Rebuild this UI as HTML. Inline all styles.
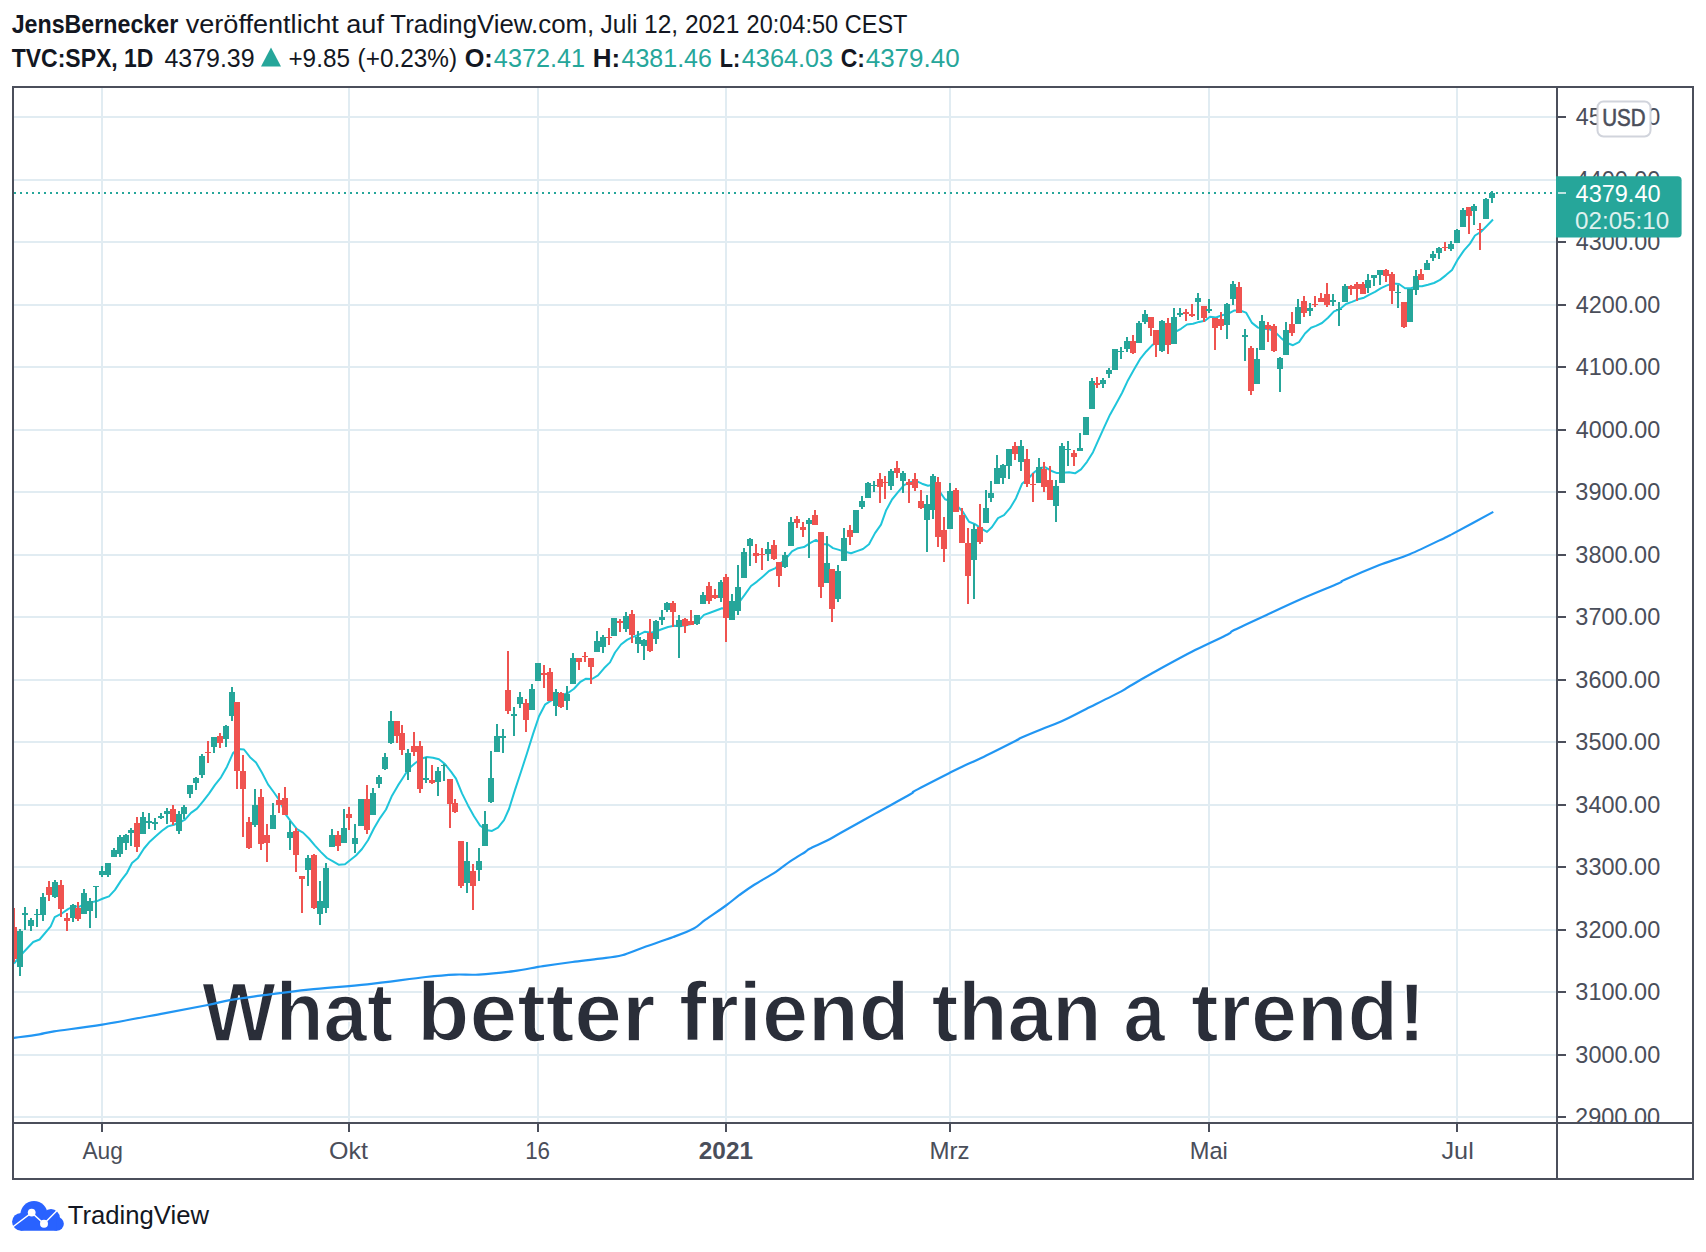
<!DOCTYPE html>
<html><head><meta charset="utf-8"><style>
html,body{margin:0;padding:0;background:#fff;}
body{width:1706px;height:1252px;position:relative;overflow:hidden;font-family:'Liberation Sans', sans-serif;}
</style></head><body>
<svg width="1706" height="1252" viewBox="0 0 1706 1252" style="position:absolute;left:0;top:0;font-family:'Liberation Sans', sans-serif">
<g stroke="#e1ecf2" stroke-width="2" shape-rendering="crispEdges">
<line x1="102" y1="88" x2="102" y2="1122"/>
<line x1="349" y1="88" x2="349" y2="1122"/>
<line x1="538" y1="88" x2="538" y2="1122"/>
<line x1="726" y1="88" x2="726" y2="1122"/>
<line x1="950" y1="88" x2="950" y2="1122"/>
<line x1="1209" y1="88" x2="1209" y2="1122"/>
<line x1="1457" y1="88" x2="1457" y2="1122"/>
<line x1="14" y1="117" x2="1556" y2="117"/>
<line x1="14" y1="180" x2="1556" y2="180"/>
<line x1="14" y1="242" x2="1556" y2="242"/>
<line x1="14" y1="305" x2="1556" y2="305"/>
<line x1="14" y1="367" x2="1556" y2="367"/>
<line x1="14" y1="430" x2="1556" y2="430"/>
<line x1="14" y1="492" x2="1556" y2="492"/>
<line x1="14" y1="555" x2="1556" y2="555"/>
<line x1="14" y1="617" x2="1556" y2="617"/>
<line x1="14" y1="680" x2="1556" y2="680"/>
<line x1="14" y1="742" x2="1556" y2="742"/>
<line x1="14" y1="805" x2="1556" y2="805"/>
<line x1="14" y1="867" x2="1556" y2="867"/>
<line x1="14" y1="930" x2="1556" y2="930"/>
<line x1="14" y1="992" x2="1556" y2="992"/>
<line x1="14" y1="1055" x2="1556" y2="1055"/>
<line x1="14" y1="1117" x2="1556" y2="1117"/>
</g>
<text x="202.01" y="1041" font-size="84" font-weight="bold" fill="#2a2e39" textLength="191.01" lengthAdjust="spacingAndGlyphs" stroke="#fff" stroke-width="1.6">What</text>
<text x="416.98" y="1041" font-size="84" font-weight="bold" fill="#2a2e39" textLength="238.53" lengthAdjust="spacingAndGlyphs" stroke="#fff" stroke-width="1.6">better</text>
<text x="678.92" y="1041" font-size="84" font-weight="bold" fill="#2a2e39" textLength="230.56" lengthAdjust="spacingAndGlyphs" stroke="#fff" stroke-width="1.6">friend</text>
<text x="931.44" y="1041" font-size="84" font-weight="bold" fill="#2a2e39" textLength="170.16" lengthAdjust="spacingAndGlyphs" stroke="#fff" stroke-width="1.6">than</text>
<text x="1123.58" y="1041" font-size="84" font-weight="bold" fill="#2a2e39" textLength="41.5" lengthAdjust="spacingAndGlyphs" stroke="#fff" stroke-width="1.6">a</text>
<text x="1191.11" y="1041" font-size="84" font-weight="bold" fill="#2a2e39" textLength="234.55" lengthAdjust="spacingAndGlyphs" stroke="#fff" stroke-width="1.6">trend!</text>
<defs><clipPath id="pane"><rect x="14" y="88" width="1542" height="1034"/></clipPath></defs>
<g clip-path="url(#pane)">
<path d="M13.7,1037.9 C18.0,1037.3 32.6,1035.4 39.3,1034.3 C46.0,1033.2 43.5,1032.9 54.0,1031.3 C64.5,1029.7 84.0,1027.7 102.3,1024.7 C120.6,1021.7 146.3,1016.6 163.9,1013.3 C181.5,1010.0 196.8,1007.2 207.8,1005.0 C218.8,1002.8 221.1,1001.6 229.8,1000.1 C238.5,998.6 246.9,997.5 260.0,995.7 C273.1,994.0 290.7,991.5 308.6,989.6 C326.5,987.7 347.6,986.4 367.2,984.3 C386.8,982.2 411.2,978.6 425.9,977.0 C440.6,975.4 446.4,975.0 455.2,974.6 C464.0,974.2 468.8,975.2 478.6,974.6 C488.4,974.0 503.0,972.5 513.8,971.1 C524.5,969.7 533.3,967.6 543.1,966.1 C552.9,964.6 562.9,963.2 572.4,962.0 C581.9,960.8 591.7,959.8 600.0,958.7 C608.3,957.6 614.7,957.2 622.0,955.3 C629.3,953.4 635.5,950.2 644.0,947.2 C652.5,944.2 665.0,940.1 673.3,937.0 C681.6,933.9 688.4,931.4 693.8,928.5 C699.2,925.6 700.1,923.5 705.5,919.7 C710.9,915.9 720.4,909.6 726.0,905.5 C731.6,901.4 734.6,898.6 739.2,895.2 C743.9,891.8 747.8,888.9 753.9,885.0 C760.0,881.1 769.8,875.8 775.9,871.8 C782.0,867.8 785.6,864.4 790.5,861.1 C795.4,857.8 802.0,854.0 805.2,852.0 C808.4,850.0 806.0,850.7 809.6,848.8 C813.2,846.9 822.0,843.2 827.1,840.6 C832.2,838.0 832.0,837.8 840.0,833.3 C848.0,828.8 863.5,820.1 875.2,813.6 C886.9,807.1 903.6,798.2 910.3,794.3 C917.0,790.4 909.1,793.9 915.6,790.4 C922.1,786.9 941.1,777.2 949.0,773.2 C956.9,769.2 957.8,768.7 963.1,766.2 C968.4,763.7 971.9,762.5 980.7,758.2 C989.5,754.0 1009.1,744.1 1015.8,740.7 C1022.5,737.3 1016.7,739.7 1021.1,737.7 C1025.5,735.7 1035.5,731.6 1042.2,728.9 C1049.0,726.2 1054.3,724.6 1061.6,721.3 C1068.9,718.0 1076.2,714.0 1086.2,709.0 C1096.2,704.0 1114.3,695.1 1121.3,691.4 C1128.3,687.7 1123.3,690.0 1128.4,687.0 C1133.5,684.0 1140.6,679.6 1151.7,673.5 C1162.8,667.4 1182.4,656.6 1195.1,650.1 C1207.8,643.6 1221.1,637.8 1227.6,634.5 C1234.1,631.2 1227.6,633.4 1234.1,630.1 C1240.6,626.8 1255.0,620.2 1266.6,614.9 C1278.2,609.5 1291.6,603.2 1303.5,598.0 C1315.4,592.8 1331.3,586.5 1338.2,583.5 C1345.1,580.5 1337.8,582.9 1344.7,579.8 C1351.6,576.7 1368.6,569.4 1379.4,565.1 C1390.2,560.8 1398.6,558.9 1409.8,554.2 C1421.0,549.5 1439.4,540.3 1446.6,536.9 C1453.8,533.5 1445.3,537.8 1453.1,533.6 C1460.9,529.4 1486.6,515.5 1493.3,511.9" fill="none" stroke="#2196f3" stroke-width="2.2"/>
<polyline points="14.0,963.5 22.8,953.0 33.2,942.0 39.6,939.5 50.7,926.3 54.7,917.2 62.0,913.3 68.0,909.1 74.0,906.2 79.0,906.8 85.0,903.8 91.0,902.4 97.0,901.1 103.0,898.5 109.0,896.4 115.0,889.9 121.0,880.6 127.0,872.8 132.0,863.0 138.0,857.9 144.0,848.5 150.0,841.4 156.0,835.9 162.0,830.7 168.0,826.4 174.0,824.7 180.0,822.3 185.0,819.7 191.0,812.9 197.0,808.6 203.0,801.4 209.0,793.6 215.0,784.9 221.0,777.3 227.0,766.7 233.0,753.1 238.0,749.1 244.0,749.5 250.0,757.2 256.0,762.6 262.0,772.7 268.0,784.4 274.0,792.5 280.0,801.2 286.0,814.8 291.0,821.7 297.0,829.1 303.0,832.6 309.0,838.5 315.0,845.6 321.0,852.1 327.0,858.0 333.0,861.4 339.0,864.8 345.0,864.3 350.0,860.2 356.0,855.5 362.0,849.0 368.0,840.3 374.0,828.3 380.0,818.1 386.0,809.5 392.0,795.7 398.0,785.4 403.0,777.8 409.0,768.4 415.0,763.3 421.0,758.7 427.0,757.0 433.0,757.8 439.0,759.3 445.0,764.1 451.0,771.7 456.0,778.6 462.0,793.4 468.0,805.4 474.0,816.3 480.0,825.5 486.0,830.0 492.0,830.9 498.0,827.7 504.0,820.2 509.0,809.0 515.0,789.9 521.0,771.8 527.0,753.2 533.0,734.1 539.0,716.3 545.0,704.7 551.0,700.7 557.0,695.8 562.0,695.3 568.0,693.0 574.0,688.7 580.0,682.2 586.0,678.7 592.0,679.0 598.0,675.3 604.0,668.3 610.0,662.4 615.0,652.5 621.0,644.5 627.0,639.9 633.0,636.9 639.0,634.7 645.0,631.7 651.0,632.8 657.0,631.0 663.0,628.7 668.0,627.0 674.0,625.8 680.0,626.3 686.0,625.3 692.0,623.9 698.0,621.1 704.0,614.9 710.0,612.7 716.0,610.5 722.0,608.2 727.0,608.9 733.0,606.8 739.0,602.5 745.0,594.4 751.0,586.0 757.0,581.6 763.0,576.4 769.0,571.0 775.0,568.4 780.0,563.8 786.0,558.7 792.0,551.4 798.0,548.2 804.0,547.1 810.0,543.2 816.0,539.9 822.0,544.0 828.0,544.5 833.0,548.1 839.0,549.9 845.0,551.7 851.0,553.3 857.0,551.1 863.0,549.0 869.0,544.3 875.0,533.1 881.0,524.6 886.0,510.6 892.0,499.5 898.0,492.2 904.0,485.1 910.0,482.3 916.0,480.9 922.0,483.7 928.0,485.8 934.0,484.6 939.0,490.6 945.0,499.2 951.0,501.2 957.0,505.6 963.0,512.0 969.0,521.7 975.0,524.1 981.0,528.3 987.0,531.9 992.0,527.0 998.0,518.1 1004.0,515.2 1010.0,508.2 1016.0,498.2 1022.0,483.8 1028.0,478.8 1034.0,472.5 1040.0,467.9 1045.0,467.2 1051.0,470.7 1057.0,473.1 1063.0,472.8 1069.0,472.2 1075.0,473.3 1081.0,469.3 1087.0,461.8 1093.0,452.2 1098.0,440.9 1104.0,427.6 1110.0,414.7 1116.0,403.9 1122.0,393.0 1128.0,380.2 1134.0,369.6 1140.0,359.2 1146.0,351.7 1152.0,345.4 1157.0,341.5 1163.0,336.1 1169.0,335.7 1175.0,332.0 1181.0,328.8 1187.0,324.5 1193.0,323.7 1199.0,321.9 1205.0,320.7 1210.0,316.7 1216.0,317.5 1222.0,315.3 1228.0,313.9 1234.0,310.6 1240.0,310.5 1246.0,312.6 1252.0,322.9 1258.0,327.6 1263.0,328.9 1269.0,329.1 1275.0,331.9 1281.0,337.9 1287.0,343.0 1293.0,345.2 1299.0,342.1 1305.0,333.5 1311.0,327.7 1316.0,325.9 1322.0,323.0 1328.0,317.8 1334.0,311.4 1340.0,309.1 1346.0,304.0 1352.0,301.9 1358.0,299.3 1364.0,297.7 1369.0,294.9 1375.0,291.9 1381.0,288.1 1387.0,285.4 1393.0,283.4 1399.0,284.0 1405.0,288.2 1411.0,288.2 1417.0,286.3 1422.0,286.2 1428.0,284.8 1434.0,283.0 1440.0,279.9 1446.0,275.1 1452.0,269.9 1458.0,259.1 1464.0,250.4 1470.0,243.6 1475.0,235.5 1481.0,231.8 1487.0,225.7 1493.0,219.5" fill="none" stroke="#1fc5da" stroke-width="2" stroke-linejoin="round"/>
<line x1="14" y1="193" x2="1556" y2="193" stroke="#26a69a" stroke-width="2" stroke-dasharray="2 4"/>
<g shape-rendering="crispEdges">
<rect x="13" y="907.9" width="2" height="53.7" fill="#ef5350"/>
<rect x="11" y="927.1" width="6" height="31.7" fill="#ef5350"/>
<rect x="19" y="929.0" width="2" height="46.5" fill="#26a69a"/>
<rect x="17" y="931.0" width="6" height="36.4" fill="#26a69a"/>
<rect x="24" y="906.5" width="2" height="23.0" fill="#26a69a"/>
<rect x="22" y="913.2" width="6" height="1.4" fill="#26a69a"/>
<rect x="30" y="917.5" width="2" height="13.9" fill="#26a69a"/>
<rect x="28" y="920.4" width="6" height="5.3" fill="#26a69a"/>
<rect x="36" y="909.4" width="2" height="17.2" fill="#26a69a"/>
<rect x="34" y="914.2" width="6" height="1.2" fill="#26a69a"/>
<rect x="42" y="893.4" width="2" height="27.2" fill="#26a69a"/>
<rect x="40" y="897.2" width="6" height="18.2" fill="#26a69a"/>
<rect x="48" y="881.1" width="2" height="19.6" fill="#ef5350"/>
<rect x="46" y="887.3" width="6" height="7.2" fill="#ef5350"/>
<rect x="54" y="880.3" width="2" height="17.6" fill="#26a69a"/>
<rect x="52" y="882.0" width="6" height="14.9" fill="#26a69a"/>
<rect x="60" y="880.3" width="2" height="36.3" fill="#ef5350"/>
<rect x="58" y="885.1" width="6" height="23.6" fill="#ef5350"/>
<rect x="66" y="913.2" width="2" height="17.6" fill="#ef5350"/>
<rect x="64" y="918.2" width="6" height="2.4" fill="#ef5350"/>
<rect x="72" y="904.3" width="2" height="17.5" fill="#26a69a"/>
<rect x="70" y="905.3" width="6" height="12.4" fill="#26a69a"/>
<rect x="77" y="902.2" width="2" height="18.4" fill="#ef5350"/>
<rect x="75" y="907.9" width="6" height="10.8" fill="#ef5350"/>
<rect x="83" y="889.2" width="2" height="24.5" fill="#26a69a"/>
<rect x="81" y="893.1" width="6" height="20.6" fill="#26a69a"/>
<rect x="89" y="898.4" width="2" height="29.2" fill="#26a69a"/>
<rect x="87" y="901.2" width="6" height="9.3" fill="#26a69a"/>
<rect x="95" y="885.7" width="2" height="31.8" fill="#26a69a"/>
<rect x="93" y="885.7" width="6" height="1.0" fill="#26a69a"/>
<rect x="101" y="866.2" width="2" height="11.2" fill="#26a69a"/>
<rect x="99" y="871.3" width="6" height="3.9" fill="#26a69a"/>
<rect x="107" y="863.1" width="2" height="13.6" fill="#26a69a"/>
<rect x="105" y="863.1" width="6" height="11.6" fill="#26a69a"/>
<rect x="113" y="848.1" width="2" height="8.6" fill="#26a69a"/>
<rect x="111" y="850.1" width="6" height="6.6" fill="#26a69a"/>
<rect x="119" y="835.1" width="2" height="21.6" fill="#26a69a"/>
<rect x="117" y="837.1" width="6" height="16.8" fill="#26a69a"/>
<rect x="125" y="834.1" width="2" height="15.4" fill="#26a69a"/>
<rect x="123" y="835.1" width="6" height="7.6" fill="#26a69a"/>
<rect x="130" y="828.2" width="2" height="17.6" fill="#26a69a"/>
<rect x="128" y="830.3" width="6" height="2.4" fill="#26a69a"/>
<rect x="136" y="817.2" width="2" height="34.5" fill="#ef5350"/>
<rect x="134" y="823.1" width="6" height="23.8" fill="#ef5350"/>
<rect x="142" y="812.2" width="2" height="21.6" fill="#26a69a"/>
<rect x="140" y="817.2" width="6" height="16.6" fill="#26a69a"/>
<rect x="148" y="813.2" width="2" height="15.5" fill="#26a69a"/>
<rect x="146" y="821.2" width="6" height="1.5" fill="#26a69a"/>
<rect x="154" y="818.0" width="2" height="11.5" fill="#26a69a"/>
<rect x="152" y="822.3" width="6" height="2.0" fill="#26a69a"/>
<rect x="160" y="813.2" width="2" height="5.6" fill="#26a69a"/>
<rect x="158" y="816.0" width="6" height="1.6" fill="#26a69a"/>
<rect x="166" y="808.2" width="2" height="15.3" fill="#26a69a"/>
<rect x="164" y="811.2" width="6" height="2.4" fill="#26a69a"/>
<rect x="172" y="805.0" width="2" height="19.7" fill="#ef5350"/>
<rect x="170" y="809.2" width="6" height="12.8" fill="#ef5350"/>
<rect x="178" y="811.2" width="2" height="22.6" fill="#26a69a"/>
<rect x="176" y="814.0" width="6" height="16.9" fill="#26a69a"/>
<rect x="183" y="805.0" width="2" height="14.2" fill="#26a69a"/>
<rect x="181" y="806.9" width="6" height="7.1" fill="#26a69a"/>
<rect x="189" y="785.3" width="2" height="12.4" fill="#26a69a"/>
<rect x="187" y="785.3" width="6" height="8.6" fill="#26a69a"/>
<rect x="195" y="777.3" width="2" height="12.5" fill="#26a69a"/>
<rect x="193" y="778.3" width="6" height="4.5" fill="#26a69a"/>
<rect x="201" y="754.3" width="2" height="23.5" fill="#26a69a"/>
<rect x="199" y="756.2" width="6" height="18.7" fill="#26a69a"/>
<rect x="207" y="741.1" width="2" height="21.8" fill="#ef5350"/>
<rect x="205" y="751.9" width="6" height="1.0" fill="#ef5350"/>
<rect x="213" y="737.3" width="2" height="15.6" fill="#26a69a"/>
<rect x="211" y="737.3" width="6" height="9.3" fill="#26a69a"/>
<rect x="219" y="733.2" width="2" height="14.7" fill="#ef5350"/>
<rect x="217" y="736.4" width="6" height="6.4" fill="#ef5350"/>
<rect x="225" y="725.1" width="2" height="21.5" fill="#26a69a"/>
<rect x="223" y="726.2" width="6" height="12.5" fill="#26a69a"/>
<rect x="231" y="687.2" width="2" height="33.5" fill="#26a69a"/>
<rect x="229" y="692.3" width="6" height="23.7" fill="#26a69a"/>
<rect x="236" y="702.2" width="2" height="86.6" fill="#ef5350"/>
<rect x="234" y="702.2" width="6" height="68.4" fill="#ef5350"/>
<rect x="242" y="755.3" width="2" height="81.2" fill="#ef5350"/>
<rect x="240" y="771.1" width="6" height="17.5" fill="#ef5350"/>
<rect x="248" y="817.3" width="2" height="32.0" fill="#ef5350"/>
<rect x="246" y="822.2" width="6" height="25.5" fill="#ef5350"/>
<rect x="254" y="789.2" width="2" height="37.7" fill="#26a69a"/>
<rect x="252" y="805.2" width="6" height="19.8" fill="#26a69a"/>
<rect x="260" y="789.2" width="2" height="60.3" fill="#ef5350"/>
<rect x="258" y="797.1" width="6" height="46.4" fill="#ef5350"/>
<rect x="266" y="824.3" width="2" height="37.5" fill="#ef5350"/>
<rect x="264" y="834.6" width="6" height="8.0" fill="#ef5350"/>
<rect x="272" y="803.2" width="2" height="25.4" fill="#26a69a"/>
<rect x="270" y="815.4" width="6" height="13.2" fill="#26a69a"/>
<rect x="278" y="793.3" width="2" height="19.5" fill="#ef5350"/>
<rect x="276" y="800.4" width="6" height="4.1" fill="#ef5350"/>
<rect x="284" y="787.3" width="2" height="27.7" fill="#ef5350"/>
<rect x="282" y="798.4" width="6" height="16.6" fill="#ef5350"/>
<rect x="289" y="820.5" width="2" height="29.4" fill="#26a69a"/>
<rect x="287" y="832.4" width="6" height="6.0" fill="#26a69a"/>
<rect x="295" y="828.2" width="2" height="44.1" fill="#ef5350"/>
<rect x="293" y="830.7" width="6" height="24.7" fill="#ef5350"/>
<rect x="301" y="876.1" width="2" height="36.5" fill="#ef5350"/>
<rect x="299" y="876.1" width="6" height="3.2" fill="#ef5350"/>
<rect x="307" y="855.4" width="2" height="30.3" fill="#26a69a"/>
<rect x="305" y="858.2" width="6" height="12.2" fill="#26a69a"/>
<rect x="313" y="853.8" width="2" height="55.6" fill="#ef5350"/>
<rect x="311" y="855.0" width="6" height="52.9" fill="#ef5350"/>
<rect x="319" y="881.3" width="2" height="43.4" fill="#26a69a"/>
<rect x="317" y="901.1" width="6" height="12.4" fill="#26a69a"/>
<rect x="325" y="863.4" width="2" height="49.2" fill="#26a69a"/>
<rect x="323" y="868.2" width="6" height="39.7" fill="#26a69a"/>
<rect x="331" y="829.1" width="2" height="18.3" fill="#26a69a"/>
<rect x="329" y="835.2" width="6" height="11.5" fill="#26a69a"/>
<rect x="337" y="831.1" width="2" height="19.8" fill="#ef5350"/>
<rect x="335" y="835.3" width="6" height="10.2" fill="#ef5350"/>
<rect x="343" y="809.3" width="2" height="33.3" fill="#26a69a"/>
<rect x="341" y="828.3" width="6" height="14.3" fill="#26a69a"/>
<rect x="348" y="807.2" width="2" height="22.6" fill="#ef5350"/>
<rect x="346" y="814.2" width="6" height="3.7" fill="#ef5350"/>
<rect x="354" y="824.0" width="2" height="28.8" fill="#26a69a"/>
<rect x="352" y="837.5" width="6" height="6.4" fill="#26a69a"/>
<rect x="360" y="799.1" width="2" height="26.9" fill="#26a69a"/>
<rect x="358" y="799.1" width="6" height="26.9" fill="#26a69a"/>
<rect x="366" y="785.0" width="2" height="49.0" fill="#ef5350"/>
<rect x="364" y="799.1" width="6" height="30.7" fill="#ef5350"/>
<rect x="372" y="788.2" width="2" height="26.3" fill="#26a69a"/>
<rect x="370" y="793.4" width="6" height="21.1" fill="#26a69a"/>
<rect x="378" y="775.4" width="2" height="12.6" fill="#26a69a"/>
<rect x="376" y="776.5" width="6" height="7.3" fill="#26a69a"/>
<rect x="384" y="753.1" width="2" height="16.6" fill="#26a69a"/>
<rect x="382" y="757.3" width="6" height="12.0" fill="#26a69a"/>
<rect x="390" y="711.3" width="2" height="32.4" fill="#26a69a"/>
<rect x="388" y="721.1" width="6" height="21.7" fill="#26a69a"/>
<rect x="396" y="721.1" width="2" height="21.7" fill="#ef5350"/>
<rect x="394" y="721.1" width="6" height="14.7" fill="#ef5350"/>
<rect x="401" y="725.3" width="2" height="29.4" fill="#ef5350"/>
<rect x="399" y="733.2" width="6" height="16.7" fill="#ef5350"/>
<rect x="407" y="749.2" width="2" height="30.7" fill="#26a69a"/>
<rect x="405" y="753.1" width="6" height="18.5" fill="#26a69a"/>
<rect x="413" y="732.2" width="2" height="23.4" fill="#ef5350"/>
<rect x="411" y="746.3" width="6" height="6.1" fill="#ef5350"/>
<rect x="419" y="741.2" width="2" height="51.3" fill="#ef5350"/>
<rect x="417" y="746.3" width="6" height="42.2" fill="#ef5350"/>
<rect x="425" y="757.3" width="2" height="25.8" fill="#26a69a"/>
<rect x="423" y="778.3" width="6" height="2.1" fill="#26a69a"/>
<rect x="431" y="764.6" width="2" height="19.7" fill="#ef5350"/>
<rect x="429" y="780.4" width="6" height="3.0" fill="#ef5350"/>
<rect x="437" y="767.2" width="2" height="28.4" fill="#26a69a"/>
<rect x="435" y="771.0" width="6" height="10.6" fill="#26a69a"/>
<rect x="443" y="763.7" width="2" height="17.1" fill="#26a69a"/>
<rect x="441" y="764.6" width="6" height="1.0" fill="#26a69a"/>
<rect x="449" y="779.3" width="2" height="48.6" fill="#ef5350"/>
<rect x="447" y="779.3" width="6" height="25.1" fill="#ef5350"/>
<rect x="454" y="799.0" width="2" height="13.7" fill="#ef5350"/>
<rect x="452" y="803.1" width="6" height="8.8" fill="#ef5350"/>
<rect x="460" y="841.1" width="2" height="46.7" fill="#ef5350"/>
<rect x="458" y="841.1" width="6" height="44.9" fill="#ef5350"/>
<rect x="466" y="842.3" width="2" height="50.4" fill="#26a69a"/>
<rect x="464" y="860.8" width="6" height="21.7" fill="#26a69a"/>
<rect x="472" y="864.3" width="2" height="45.5" fill="#ef5350"/>
<rect x="470" y="871.1" width="6" height="15.2" fill="#ef5350"/>
<rect x="478" y="848.1" width="2" height="32.9" fill="#26a69a"/>
<rect x="476" y="861.3" width="6" height="9.1" fill="#26a69a"/>
<rect x="484" y="811.2" width="2" height="34.4" fill="#26a69a"/>
<rect x="482" y="824.1" width="6" height="21.5" fill="#26a69a"/>
<rect x="490" y="751.2" width="2" height="51.3" fill="#26a69a"/>
<rect x="488" y="778.3" width="6" height="23.8" fill="#26a69a"/>
<rect x="496" y="724.4" width="2" height="27.3" fill="#26a69a"/>
<rect x="494" y="736.4" width="6" height="15.3" fill="#26a69a"/>
<rect x="502" y="729.4" width="2" height="23.3" fill="#26a69a"/>
<rect x="500" y="736.4" width="6" height="1.2" fill="#26a69a"/>
<rect x="507" y="651.3" width="2" height="62.3" fill="#ef5350"/>
<rect x="505" y="690.3" width="6" height="21.1" fill="#ef5350"/>
<rect x="513" y="707.3" width="2" height="28.4" fill="#26a69a"/>
<rect x="511" y="714.3" width="6" height="1.4" fill="#26a69a"/>
<rect x="519" y="692.3" width="2" height="15.3" fill="#26a69a"/>
<rect x="517" y="697.3" width="6" height="6.5" fill="#26a69a"/>
<rect x="525" y="699.3" width="2" height="32.3" fill="#ef5350"/>
<rect x="523" y="703.3" width="6" height="16.3" fill="#ef5350"/>
<rect x="531" y="684.3" width="2" height="25.2" fill="#26a69a"/>
<rect x="529" y="689.4" width="6" height="20.1" fill="#26a69a"/>
<rect x="537" y="662.5" width="2" height="18.0" fill="#26a69a"/>
<rect x="535" y="663.2" width="6" height="17.3" fill="#26a69a"/>
<rect x="543" y="665.4" width="2" height="22.1" fill="#ef5350"/>
<rect x="541" y="673.1" width="6" height="1.4" fill="#ef5350"/>
<rect x="549" y="668.3" width="2" height="32.3" fill="#ef5350"/>
<rect x="547" y="672.4" width="6" height="28.2" fill="#ef5350"/>
<rect x="555" y="689.4" width="2" height="26.3" fill="#26a69a"/>
<rect x="553" y="691.6" width="6" height="14.1" fill="#26a69a"/>
<rect x="560" y="692.3" width="2" height="15.3" fill="#ef5350"/>
<rect x="558" y="693.2" width="6" height="13.7" fill="#ef5350"/>
<rect x="566" y="686.2" width="2" height="23.6" fill="#26a69a"/>
<rect x="564" y="694.2" width="6" height="7.2" fill="#26a69a"/>
<rect x="572" y="653.2" width="2" height="30.4" fill="#26a69a"/>
<rect x="570" y="658.2" width="6" height="25.4" fill="#26a69a"/>
<rect x="578" y="658.2" width="2" height="11.5" fill="#ef5350"/>
<rect x="576" y="658.2" width="6" height="3.4" fill="#ef5350"/>
<rect x="584" y="652.3" width="2" height="9.6" fill="#ef5350"/>
<rect x="582" y="656.1" width="6" height="1.0" fill="#ef5350"/>
<rect x="590" y="658.2" width="2" height="25.4" fill="#ef5350"/>
<rect x="588" y="658.2" width="6" height="8.3" fill="#ef5350"/>
<rect x="596" y="631.1" width="2" height="20.6" fill="#26a69a"/>
<rect x="594" y="641.2" width="6" height="10.5" fill="#26a69a"/>
<rect x="602" y="635.1" width="2" height="17.6" fill="#26a69a"/>
<rect x="600" y="637.3" width="6" height="9.5" fill="#26a69a"/>
<rect x="608" y="628.2" width="2" height="16.6" fill="#ef5350"/>
<rect x="606" y="637.3" width="6" height="1.0" fill="#ef5350"/>
<rect x="613" y="618.2" width="2" height="17.5" fill="#26a69a"/>
<rect x="611" y="618.2" width="6" height="17.5" fill="#26a69a"/>
<rect x="619" y="619.1" width="2" height="12.6" fill="#ef5350"/>
<rect x="617" y="621.3" width="6" height="1.2" fill="#ef5350"/>
<rect x="625" y="612.1" width="2" height="19.5" fill="#26a69a"/>
<rect x="623" y="616.2" width="6" height="12.6" fill="#26a69a"/>
<rect x="631" y="610.3" width="2" height="32.5" fill="#ef5350"/>
<rect x="629" y="614.3" width="6" height="20.3" fill="#ef5350"/>
<rect x="637" y="631.1" width="2" height="21.6" fill="#26a69a"/>
<rect x="635" y="637.1" width="6" height="6.5" fill="#26a69a"/>
<rect x="643" y="639.2" width="2" height="20.4" fill="#26a69a"/>
<rect x="641" y="640.3" width="6" height="5.2" fill="#26a69a"/>
<rect x="649" y="619.1" width="2" height="32.6" fill="#ef5350"/>
<rect x="647" y="633.0" width="6" height="18.0" fill="#ef5350"/>
<rect x="655" y="620.2" width="2" height="23.6" fill="#26a69a"/>
<rect x="653" y="621.1" width="6" height="17.6" fill="#26a69a"/>
<rect x="661" y="610.3" width="2" height="14.4" fill="#26a69a"/>
<rect x="659" y="617.3" width="6" height="2.9" fill="#26a69a"/>
<rect x="666" y="602.4" width="2" height="9.3" fill="#26a69a"/>
<rect x="664" y="603.1" width="6" height="6.5" fill="#26a69a"/>
<rect x="672" y="601.1" width="2" height="25.7" fill="#ef5350"/>
<rect x="670" y="603.1" width="6" height="8.5" fill="#ef5350"/>
<rect x="678" y="615.2" width="2" height="42.5" fill="#26a69a"/>
<rect x="676" y="620.3" width="6" height="7.1" fill="#26a69a"/>
<rect x="684" y="618.4" width="2" height="14.4" fill="#ef5350"/>
<rect x="682" y="619.2" width="6" height="6.4" fill="#ef5350"/>
<rect x="690" y="610.3" width="2" height="14.6" fill="#ef5350"/>
<rect x="688" y="621.3" width="6" height="3.6" fill="#ef5350"/>
<rect x="696" y="615.1" width="2" height="9.5" fill="#26a69a"/>
<rect x="694" y="615.1" width="6" height="8.6" fill="#26a69a"/>
<rect x="702" y="592.3" width="2" height="11.3" fill="#26a69a"/>
<rect x="700" y="595.2" width="6" height="8.4" fill="#26a69a"/>
<rect x="708" y="582.2" width="2" height="21.6" fill="#ef5350"/>
<rect x="706" y="586.3" width="6" height="14.7" fill="#ef5350"/>
<rect x="714" y="589.2" width="2" height="9.6" fill="#ef5350"/>
<rect x="712" y="595.2" width="6" height="2.9" fill="#ef5350"/>
<rect x="720" y="580.3" width="2" height="21.3" fill="#26a69a"/>
<rect x="718" y="582.2" width="6" height="15.6" fill="#26a69a"/>
<rect x="725" y="574.1" width="2" height="67.8" fill="#ef5350"/>
<rect x="723" y="577.2" width="6" height="40.3" fill="#ef5350"/>
<rect x="731" y="594.3" width="2" height="25.6" fill="#26a69a"/>
<rect x="729" y="601.2" width="6" height="18.7" fill="#26a69a"/>
<rect x="737" y="565.2" width="2" height="49.4" fill="#26a69a"/>
<rect x="735" y="587.3" width="6" height="23.4" fill="#26a69a"/>
<rect x="743" y="548.2" width="2" height="29.5" fill="#26a69a"/>
<rect x="741" y="552.1" width="6" height="25.6" fill="#26a69a"/>
<rect x="749" y="538.1" width="2" height="27.8" fill="#26a69a"/>
<rect x="747" y="539.0" width="6" height="6.5" fill="#26a69a"/>
<rect x="755" y="544.1" width="2" height="18.7" fill="#ef5350"/>
<rect x="753" y="553.0" width="6" height="2.6" fill="#ef5350"/>
<rect x="761" y="548.2" width="2" height="21.5" fill="#ef5350"/>
<rect x="759" y="554.2" width="6" height="1.0" fill="#ef5350"/>
<rect x="767" y="542.2" width="2" height="18.5" fill="#26a69a"/>
<rect x="765" y="549.2" width="6" height="4.5" fill="#26a69a"/>
<rect x="773" y="540.2" width="2" height="19.5" fill="#ef5350"/>
<rect x="771" y="545.2" width="6" height="13.9" fill="#ef5350"/>
<rect x="778" y="562.1" width="2" height="24.6" fill="#ef5350"/>
<rect x="776" y="562.1" width="6" height="13.7" fill="#ef5350"/>
<rect x="784" y="552.1" width="2" height="15.6" fill="#26a69a"/>
<rect x="782" y="555.2" width="6" height="11.8" fill="#26a69a"/>
<rect x="790" y="517.1" width="2" height="28.4" fill="#26a69a"/>
<rect x="788" y="522.0" width="6" height="23.5" fill="#26a69a"/>
<rect x="796" y="516.1" width="2" height="11.7" fill="#ef5350"/>
<rect x="794" y="519.2" width="6" height="3.6" fill="#ef5350"/>
<rect x="802" y="522.0" width="2" height="14.9" fill="#ef5350"/>
<rect x="800" y="527.2" width="6" height="2.4" fill="#ef5350"/>
<rect x="808" y="518.2" width="2" height="39.4" fill="#26a69a"/>
<rect x="806" y="520.2" width="6" height="3.5" fill="#26a69a"/>
<rect x="814" y="510.2" width="2" height="15.2" fill="#ef5350"/>
<rect x="812" y="515.4" width="6" height="9.5" fill="#ef5350"/>
<rect x="820" y="532.2" width="2" height="65.6" fill="#ef5350"/>
<rect x="818" y="532.2" width="6" height="54.5" fill="#ef5350"/>
<rect x="826" y="536.1" width="2" height="46.5" fill="#26a69a"/>
<rect x="824" y="563.1" width="6" height="19.5" fill="#26a69a"/>
<rect x="831" y="569.1" width="2" height="52.6" fill="#ef5350"/>
<rect x="829" y="569.1" width="6" height="39.7" fill="#ef5350"/>
<rect x="837" y="565.2" width="2" height="36.6" fill="#26a69a"/>
<rect x="835" y="571.1" width="6" height="27.5" fill="#26a69a"/>
<rect x="843" y="528.2" width="2" height="32.5" fill="#26a69a"/>
<rect x="841" y="538.2" width="6" height="22.5" fill="#26a69a"/>
<rect x="849" y="525.1" width="2" height="19.8" fill="#ef5350"/>
<rect x="847" y="530.1" width="6" height="6.8" fill="#ef5350"/>
<rect x="855" y="510.2" width="2" height="22.5" fill="#26a69a"/>
<rect x="853" y="510.2" width="6" height="22.5" fill="#26a69a"/>
<rect x="861" y="496.1" width="2" height="12.5" fill="#26a69a"/>
<rect x="859" y="501.1" width="6" height="5.6" fill="#26a69a"/>
<rect x="867" y="482.2" width="2" height="15.7" fill="#26a69a"/>
<rect x="865" y="482.9" width="6" height="15.0" fill="#26a69a"/>
<rect x="873" y="481.2" width="2" height="10.5" fill="#26a69a"/>
<rect x="871" y="485.3" width="6" height="1.0" fill="#26a69a"/>
<rect x="879" y="473.0" width="2" height="29.9" fill="#ef5350"/>
<rect x="877" y="479.2" width="6" height="7.3" fill="#ef5350"/>
<rect x="884" y="476.1" width="2" height="22.4" fill="#ef5350"/>
<rect x="882" y="482.4" width="6" height="1.0" fill="#ef5350"/>
<rect x="890" y="469.1" width="2" height="20.6" fill="#26a69a"/>
<rect x="888" y="471.3" width="6" height="14.5" fill="#26a69a"/>
<rect x="896" y="461.2" width="2" height="16.5" fill="#ef5350"/>
<rect x="894" y="468.2" width="6" height="4.4" fill="#ef5350"/>
<rect x="902" y="471.3" width="2" height="21.5" fill="#26a69a"/>
<rect x="900" y="473.3" width="6" height="8.1" fill="#26a69a"/>
<rect x="908" y="479.2" width="2" height="23.7" fill="#ef5350"/>
<rect x="906" y="482.4" width="6" height="2.5" fill="#ef5350"/>
<rect x="914" y="473.0" width="2" height="17.6" fill="#ef5350"/>
<rect x="912" y="479.2" width="6" height="9.2" fill="#ef5350"/>
<rect x="920" y="490.1" width="2" height="18.7" fill="#ef5350"/>
<rect x="918" y="501.4" width="6" height="6.3" fill="#ef5350"/>
<rect x="926" y="495.2" width="2" height="56.5" fill="#26a69a"/>
<rect x="924" y="504.2" width="6" height="15.7" fill="#26a69a"/>
<rect x="932" y="474.2" width="2" height="44.5" fill="#26a69a"/>
<rect x="930" y="476.1" width="6" height="33.4" fill="#26a69a"/>
<rect x="937" y="477.1" width="2" height="69.7" fill="#ef5350"/>
<rect x="935" y="482.4" width="6" height="54.3" fill="#ef5350"/>
<rect x="943" y="517.2" width="2" height="44.6" fill="#ef5350"/>
<rect x="941" y="530.3" width="6" height="18.4" fill="#ef5350"/>
<rect x="949" y="483.2" width="2" height="45.5" fill="#26a69a"/>
<rect x="947" y="491.0" width="6" height="37.7" fill="#26a69a"/>
<rect x="955" y="488.1" width="2" height="24.2" fill="#ef5350"/>
<rect x="953" y="490.1" width="6" height="22.2" fill="#ef5350"/>
<rect x="961" y="508.3" width="2" height="35.0" fill="#ef5350"/>
<rect x="959" y="515.0" width="6" height="28.3" fill="#ef5350"/>
<rect x="967" y="528.2" width="2" height="75.5" fill="#ef5350"/>
<rect x="965" y="543.3" width="6" height="32.4" fill="#ef5350"/>
<rect x="973" y="523.7" width="2" height="74.9" fill="#26a69a"/>
<rect x="971" y="529.1" width="6" height="30.4" fill="#26a69a"/>
<rect x="979" y="504.1" width="2" height="39.5" fill="#ef5350"/>
<rect x="977" y="527.3" width="6" height="14.3" fill="#ef5350"/>
<rect x="985" y="490.3" width="2" height="32.4" fill="#26a69a"/>
<rect x="983" y="508.3" width="6" height="14.4" fill="#26a69a"/>
<rect x="990" y="481.1" width="2" height="20.6" fill="#26a69a"/>
<rect x="988" y="493.1" width="6" height="4.8" fill="#26a69a"/>
<rect x="996" y="455.2" width="2" height="28.5" fill="#26a69a"/>
<rect x="994" y="468.2" width="6" height="15.5" fill="#26a69a"/>
<rect x="1002" y="464.3" width="2" height="19.4" fill="#26a69a"/>
<rect x="1000" y="465.1" width="6" height="12.8" fill="#26a69a"/>
<rect x="1008" y="449.2" width="2" height="29.5" fill="#26a69a"/>
<rect x="1006" y="449.2" width="6" height="16.3" fill="#26a69a"/>
<rect x="1014" y="442.1" width="2" height="17.6" fill="#ef5350"/>
<rect x="1012" y="446.4" width="6" height="7.2" fill="#ef5350"/>
<rect x="1020" y="440.2" width="2" height="30.5" fill="#26a69a"/>
<rect x="1018" y="446.4" width="6" height="15.1" fill="#26a69a"/>
<rect x="1026" y="449.2" width="2" height="37.5" fill="#ef5350"/>
<rect x="1024" y="459.4" width="6" height="24.3" fill="#ef5350"/>
<rect x="1032" y="473.1" width="2" height="28.6" fill="#ef5350"/>
<rect x="1030" y="484.2" width="6" height="1.0" fill="#ef5350"/>
<rect x="1038" y="458.1" width="2" height="25.0" fill="#26a69a"/>
<rect x="1036" y="467.1" width="6" height="16.0" fill="#26a69a"/>
<rect x="1043" y="462.1" width="2" height="29.6" fill="#ef5350"/>
<rect x="1041" y="469.1" width="6" height="17.6" fill="#ef5350"/>
<rect x="1049" y="466.1" width="2" height="33.5" fill="#ef5350"/>
<rect x="1047" y="480.2" width="6" height="19.4" fill="#ef5350"/>
<rect x="1055" y="480.2" width="2" height="41.5" fill="#26a69a"/>
<rect x="1053" y="486.3" width="6" height="19.2" fill="#26a69a"/>
<rect x="1061" y="443.2" width="2" height="39.4" fill="#26a69a"/>
<rect x="1059" y="446.4" width="6" height="36.2" fill="#26a69a"/>
<rect x="1067" y="441.2" width="2" height="24.6" fill="#26a69a"/>
<rect x="1065" y="448.5" width="6" height="1.0" fill="#26a69a"/>
<rect x="1073" y="450.4" width="2" height="15.4" fill="#ef5350"/>
<rect x="1071" y="453.2" width="6" height="3.3" fill="#ef5350"/>
<rect x="1079" y="433.2" width="2" height="17.4" fill="#26a69a"/>
<rect x="1077" y="447.5" width="6" height="3.1" fill="#26a69a"/>
<rect x="1085" y="417.4" width="2" height="17.1" fill="#26a69a"/>
<rect x="1083" y="417.4" width="6" height="17.1" fill="#26a69a"/>
<rect x="1091" y="378.3" width="2" height="30.4" fill="#26a69a"/>
<rect x="1089" y="381.2" width="6" height="27.5" fill="#26a69a"/>
<rect x="1096" y="376.5" width="2" height="11.1" fill="#ef5350"/>
<rect x="1094" y="383.1" width="6" height="1.9" fill="#ef5350"/>
<rect x="1102" y="378.3" width="2" height="9.3" fill="#26a69a"/>
<rect x="1100" y="379.9" width="6" height="3.9" fill="#26a69a"/>
<rect x="1108" y="368.4" width="2" height="9.9" fill="#26a69a"/>
<rect x="1106" y="369.7" width="6" height="4.5" fill="#26a69a"/>
<rect x="1114" y="349.2" width="2" height="21.1" fill="#26a69a"/>
<rect x="1112" y="349.2" width="6" height="21.1" fill="#26a69a"/>
<rect x="1120" y="347.3" width="2" height="11.5" fill="#26a69a"/>
<rect x="1118" y="350.5" width="6" height="1.9" fill="#26a69a"/>
<rect x="1126" y="337.3" width="2" height="15.1" fill="#26a69a"/>
<rect x="1124" y="341.2" width="6" height="7.6" fill="#26a69a"/>
<rect x="1132" y="335.2" width="2" height="19.1" fill="#ef5350"/>
<rect x="1130" y="341.2" width="6" height="11.5" fill="#ef5350"/>
<rect x="1138" y="321.1" width="2" height="21.4" fill="#26a69a"/>
<rect x="1136" y="323.0" width="6" height="19.5" fill="#26a69a"/>
<rect x="1144" y="310.0" width="2" height="13.7" fill="#26a69a"/>
<rect x="1142" y="314.1" width="6" height="7.6" fill="#26a69a"/>
<rect x="1150" y="317.3" width="2" height="19.1" fill="#ef5350"/>
<rect x="1148" y="317.3" width="6" height="11.1" fill="#ef5350"/>
<rect x="1155" y="330.1" width="2" height="26.4" fill="#ef5350"/>
<rect x="1153" y="330.1" width="6" height="14.9" fill="#ef5350"/>
<rect x="1161" y="320.2" width="2" height="31.6" fill="#26a69a"/>
<rect x="1159" y="320.7" width="6" height="30.5" fill="#26a69a"/>
<rect x="1167" y="318.2" width="2" height="35.6" fill="#ef5350"/>
<rect x="1165" y="323.2" width="6" height="22.1" fill="#ef5350"/>
<rect x="1173" y="308.0" width="2" height="35.8" fill="#26a69a"/>
<rect x="1171" y="317.2" width="6" height="26.6" fill="#26a69a"/>
<rect x="1179" y="308.0" width="2" height="8.6" fill="#26a69a"/>
<rect x="1177" y="313.1" width="6" height="1.4" fill="#26a69a"/>
<rect x="1185" y="309.0" width="2" height="11.7" fill="#ef5350"/>
<rect x="1183" y="312.4" width="6" height="1.2" fill="#ef5350"/>
<rect x="1191" y="304.2" width="2" height="12.4" fill="#ef5350"/>
<rect x="1189" y="314.0" width="6" height="2.0" fill="#ef5350"/>
<rect x="1197" y="292.9" width="2" height="26.9" fill="#26a69a"/>
<rect x="1195" y="298.0" width="6" height="3.6" fill="#26a69a"/>
<rect x="1203" y="305.9" width="2" height="15.8" fill="#ef5350"/>
<rect x="1201" y="305.9" width="6" height="11.7" fill="#ef5350"/>
<rect x="1208" y="299.2" width="2" height="13.6" fill="#26a69a"/>
<rect x="1206" y="309.2" width="6" height="1.7" fill="#26a69a"/>
<rect x="1214" y="317.9" width="2" height="31.9" fill="#ef5350"/>
<rect x="1212" y="317.9" width="6" height="9.6" fill="#ef5350"/>
<rect x="1220" y="312.1" width="2" height="17.6" fill="#ef5350"/>
<rect x="1218" y="318.8" width="6" height="7.0" fill="#ef5350"/>
<rect x="1226" y="303.2" width="2" height="35.5" fill="#26a69a"/>
<rect x="1224" y="304.0" width="6" height="20.6" fill="#26a69a"/>
<rect x="1232" y="281.2" width="2" height="23.5" fill="#26a69a"/>
<rect x="1230" y="284.0" width="6" height="14.7" fill="#26a69a"/>
<rect x="1238" y="282.1" width="2" height="30.5" fill="#ef5350"/>
<rect x="1236" y="286.9" width="6" height="25.7" fill="#ef5350"/>
<rect x="1244" y="329.2" width="2" height="31.6" fill="#26a69a"/>
<rect x="1242" y="335.1" width="6" height="1.4" fill="#26a69a"/>
<rect x="1250" y="346.2" width="2" height="48.4" fill="#ef5350"/>
<rect x="1248" y="348.3" width="6" height="42.4" fill="#ef5350"/>
<rect x="1256" y="348.3" width="2" height="35.3" fill="#26a69a"/>
<rect x="1254" y="359.2" width="6" height="24.4" fill="#26a69a"/>
<rect x="1261" y="315.1" width="2" height="34.6" fill="#26a69a"/>
<rect x="1259" y="321.3" width="6" height="28.4" fill="#26a69a"/>
<rect x="1267" y="322.2" width="2" height="19.5" fill="#ef5350"/>
<rect x="1265" y="324.5" width="6" height="4.4" fill="#ef5350"/>
<rect x="1273" y="324.3" width="2" height="27.3" fill="#ef5350"/>
<rect x="1271" y="326.1" width="6" height="25.0" fill="#ef5350"/>
<rect x="1279" y="357.1" width="2" height="34.6" fill="#26a69a"/>
<rect x="1277" y="358.0" width="6" height="10.6" fill="#26a69a"/>
<rect x="1285" y="322.2" width="2" height="32.6" fill="#26a69a"/>
<rect x="1283" y="330.2" width="6" height="24.6" fill="#26a69a"/>
<rect x="1291" y="312.1" width="2" height="23.4" fill="#ef5350"/>
<rect x="1289" y="324.3" width="6" height="8.3" fill="#ef5350"/>
<rect x="1297" y="299.2" width="2" height="24.4" fill="#26a69a"/>
<rect x="1295" y="307.2" width="6" height="16.4" fill="#26a69a"/>
<rect x="1303" y="296.2" width="2" height="20.5" fill="#ef5350"/>
<rect x="1301" y="301.3" width="6" height="11.4" fill="#ef5350"/>
<rect x="1309" y="303.2" width="2" height="12.3" fill="#26a69a"/>
<rect x="1307" y="307.5" width="6" height="3.2" fill="#26a69a"/>
<rect x="1314" y="296.2" width="2" height="10.4" fill="#ef5350"/>
<rect x="1312" y="303.8" width="6" height="1.4" fill="#ef5350"/>
<rect x="1320" y="293.1" width="2" height="9.3" fill="#ef5350"/>
<rect x="1318" y="298.3" width="6" height="4.1" fill="#ef5350"/>
<rect x="1326" y="283.2" width="2" height="23.4" fill="#ef5350"/>
<rect x="1324" y="294.2" width="6" height="10.5" fill="#ef5350"/>
<rect x="1332" y="294.2" width="2" height="12.2" fill="#26a69a"/>
<rect x="1330" y="300.4" width="6" height="1.1" fill="#26a69a"/>
<rect x="1338" y="302.3" width="2" height="23.3" fill="#26a69a"/>
<rect x="1336" y="309.3" width="6" height="1.1" fill="#26a69a"/>
<rect x="1344" y="284.4" width="2" height="17.2" fill="#26a69a"/>
<rect x="1342" y="286.3" width="6" height="15.3" fill="#26a69a"/>
<rect x="1350" y="285.4" width="2" height="10.0" fill="#ef5350"/>
<rect x="1348" y="286.3" width="6" height="2.5" fill="#ef5350"/>
<rect x="1356" y="282.2" width="2" height="18.5" fill="#ef5350"/>
<rect x="1354" y="284.4" width="6" height="4.4" fill="#ef5350"/>
<rect x="1362" y="282.2" width="2" height="11.3" fill="#ef5350"/>
<rect x="1360" y="284.4" width="6" height="9.1" fill="#ef5350"/>
<rect x="1367" y="274.1" width="2" height="18.5" fill="#26a69a"/>
<rect x="1365" y="280.3" width="6" height="7.2" fill="#26a69a"/>
<rect x="1373" y="275.2" width="2" height="10.4" fill="#26a69a"/>
<rect x="1371" y="275.3" width="6" height="3.1" fill="#26a69a"/>
<rect x="1379" y="270.3" width="2" height="14.4" fill="#26a69a"/>
<rect x="1377" y="270.3" width="6" height="5.0" fill="#26a69a"/>
<rect x="1385" y="269.1" width="2" height="12.4" fill="#ef5350"/>
<rect x="1383" y="270.3" width="6" height="5.9" fill="#ef5350"/>
<rect x="1391" y="272.1" width="2" height="31.7" fill="#ef5350"/>
<rect x="1389" y="274.3" width="6" height="16.5" fill="#ef5350"/>
<rect x="1397" y="285.2" width="2" height="22.3" fill="#26a69a"/>
<rect x="1395" y="291.6" width="6" height="1.0" fill="#26a69a"/>
<rect x="1403" y="302.1" width="2" height="25.5" fill="#ef5350"/>
<rect x="1401" y="302.3" width="6" height="24.5" fill="#ef5350"/>
<rect x="1409" y="288.8" width="2" height="32.9" fill="#26a69a"/>
<rect x="1407" y="288.8" width="6" height="32.9" fill="#26a69a"/>
<rect x="1415" y="270.3" width="2" height="24.4" fill="#26a69a"/>
<rect x="1413" y="276.2" width="6" height="13.3" fill="#26a69a"/>
<rect x="1420" y="269.3" width="2" height="10.3" fill="#ef5350"/>
<rect x="1418" y="274.3" width="6" height="5.3" fill="#ef5350"/>
<rect x="1426" y="260.2" width="2" height="9.4" fill="#26a69a"/>
<rect x="1424" y="263.1" width="6" height="6.5" fill="#26a69a"/>
<rect x="1432" y="251.2" width="2" height="9.5" fill="#26a69a"/>
<rect x="1430" y="254.2" width="6" height="3.4" fill="#26a69a"/>
<rect x="1438" y="247.2" width="2" height="11.5" fill="#26a69a"/>
<rect x="1436" y="248.3" width="6" height="4.3" fill="#26a69a"/>
<rect x="1444" y="242.2" width="2" height="8.6" fill="#ef5350"/>
<rect x="1442" y="247.0" width="6" height="1.0" fill="#ef5350"/>
<rect x="1450" y="241.3" width="2" height="9.5" fill="#26a69a"/>
<rect x="1448" y="244.1" width="6" height="4.6" fill="#26a69a"/>
<rect x="1456" y="229.2" width="2" height="13.5" fill="#26a69a"/>
<rect x="1454" y="230.0" width="6" height="12.7" fill="#26a69a"/>
<rect x="1462" y="208.2" width="2" height="18.5" fill="#26a69a"/>
<rect x="1460" y="210.2" width="6" height="16.5" fill="#26a69a"/>
<rect x="1468" y="207.2" width="2" height="26.4" fill="#ef5350"/>
<rect x="1466" y="207.2" width="6" height="8.4" fill="#ef5350"/>
<rect x="1473" y="204.1" width="2" height="20.6" fill="#26a69a"/>
<rect x="1471" y="206.2" width="6" height="4.4" fill="#26a69a"/>
<rect x="1479" y="223.1" width="2" height="26.5" fill="#ef5350"/>
<rect x="1477" y="229.2" width="6" height="1.0" fill="#ef5350"/>
<rect x="1485" y="198.1" width="2" height="20.7" fill="#26a69a"/>
<rect x="1483" y="199.1" width="6" height="19.7" fill="#26a69a"/>
<rect x="1491" y="191.1" width="2" height="11.8" fill="#26a69a"/>
<rect x="1489" y="193.1" width="6" height="4.5" fill="#26a69a"/>
</g>
</g>
<g stroke="#4b4f5b" stroke-width="2" fill="none">
<rect x="13" y="87" width="1680" height="1092"/>
<line x1="1557" y1="87" x2="1557" y2="1179"/>
<line x1="13" y1="1123" x2="1693" y2="1123"/>
</g>
<g fill="#4b4f5b">
<rect x="1558" y="116" width="8" height="2"/>
<rect x="1558" y="179" width="8" height="2"/>
<rect x="1558" y="241" width="8" height="2"/>
<rect x="1558" y="304" width="8" height="2"/>
<rect x="1558" y="366" width="8" height="2"/>
<rect x="1558" y="429" width="8" height="2"/>
<rect x="1558" y="491" width="8" height="2"/>
<rect x="1558" y="554" width="8" height="2"/>
<rect x="1558" y="616" width="8" height="2"/>
<rect x="1558" y="679" width="8" height="2"/>
<rect x="1558" y="741" width="8" height="2"/>
<rect x="1558" y="804" width="8" height="2"/>
<rect x="1558" y="866" width="8" height="2"/>
<rect x="1558" y="929" width="8" height="2"/>
<rect x="1558" y="991" width="8" height="2"/>
<rect x="1558" y="1054" width="8" height="2"/>
<rect x="1558" y="1116" width="8" height="2"/>
</g>
<defs><clipPath id="pax"><rect x="1558" y="88" width="134" height="1034"/></clipPath></defs>
<g clip-path="url(#pax)">
<text x="1575.63" y="124.9" font-size="24.5" font-weight="normal" fill="#4a4e5a" textLength="84.59" lengthAdjust="spacingAndGlyphs" >4500.00</text>
<text x="1575.63" y="187.9" font-size="24.5" font-weight="normal" fill="#4a4e5a" textLength="84.59" lengthAdjust="spacingAndGlyphs" >4400.00</text>
<text x="1575.63" y="249.9" font-size="24.5" font-weight="normal" fill="#4a4e5a" textLength="84.59" lengthAdjust="spacingAndGlyphs" >4300.00</text>
<text x="1575.63" y="312.9" font-size="24.5" font-weight="normal" fill="#4a4e5a" textLength="84.59" lengthAdjust="spacingAndGlyphs" >4200.00</text>
<text x="1575.63" y="374.9" font-size="24.5" font-weight="normal" fill="#4a4e5a" textLength="84.59" lengthAdjust="spacingAndGlyphs" >4100.00</text>
<text x="1575.63" y="437.9" font-size="24.5" font-weight="normal" fill="#4a4e5a" textLength="84.59" lengthAdjust="spacingAndGlyphs" >4000.00</text>
<text x="1575.34" y="499.9" font-size="24.5" font-weight="normal" fill="#4a4e5a" textLength="84.88" lengthAdjust="spacingAndGlyphs" >3900.00</text>
<text x="1575.34" y="562.9" font-size="24.5" font-weight="normal" fill="#4a4e5a" textLength="84.88" lengthAdjust="spacingAndGlyphs" >3800.00</text>
<text x="1575.34" y="624.9" font-size="24.5" font-weight="normal" fill="#4a4e5a" textLength="84.88" lengthAdjust="spacingAndGlyphs" >3700.00</text>
<text x="1575.34" y="687.9" font-size="24.5" font-weight="normal" fill="#4a4e5a" textLength="84.88" lengthAdjust="spacingAndGlyphs" >3600.00</text>
<text x="1575.34" y="749.9" font-size="24.5" font-weight="normal" fill="#4a4e5a" textLength="84.88" lengthAdjust="spacingAndGlyphs" >3500.00</text>
<text x="1575.34" y="812.9" font-size="24.5" font-weight="normal" fill="#4a4e5a" textLength="84.88" lengthAdjust="spacingAndGlyphs" >3400.00</text>
<text x="1575.34" y="874.9" font-size="24.5" font-weight="normal" fill="#4a4e5a" textLength="84.88" lengthAdjust="spacingAndGlyphs" >3300.00</text>
<text x="1575.34" y="937.9" font-size="24.5" font-weight="normal" fill="#4a4e5a" textLength="84.88" lengthAdjust="spacingAndGlyphs" >3200.00</text>
<text x="1575.34" y="999.9" font-size="24.5" font-weight="normal" fill="#4a4e5a" textLength="84.88" lengthAdjust="spacingAndGlyphs" >3100.00</text>
<text x="1575.34" y="1062.9" font-size="24.5" font-weight="normal" fill="#4a4e5a" textLength="84.88" lengthAdjust="spacingAndGlyphs" >3000.00</text>
<text x="1575.05" y="1124.9" font-size="24.5" font-weight="normal" fill="#4a4e5a" textLength="85.17" lengthAdjust="spacingAndGlyphs" >2900.00</text>
</g>
<rect x="101" y="1124" width="2" height="8" fill="#4b4f5b"/>
<text x="82.41" y="1158.8" font-size="24.5" font-weight="normal" fill="#4a4e5a" textLength="40.48" lengthAdjust="spacingAndGlyphs" >Aug</text>
<rect x="348" y="1124" width="2" height="8" fill="#4b4f5b"/>
<text x="329.02" y="1158.8" font-size="24.5" font-weight="normal" fill="#4a4e5a" textLength="38.94" lengthAdjust="spacingAndGlyphs" >Okt</text>
<rect x="537" y="1124" width="2" height="8" fill="#4b4f5b"/>
<text x="525.16" y="1158.8" font-size="24.5" font-weight="normal" fill="#4a4e5a" textLength="24.9" lengthAdjust="spacingAndGlyphs" >16</text>
<rect x="725" y="1124" width="2" height="8" fill="#4b4f5b"/>
<text x="698.8" y="1158.8" font-size="24.5" font-weight="bold" fill="#4a4e5a" textLength="54.19" lengthAdjust="spacingAndGlyphs" >2021</text>
<rect x="949" y="1124" width="2" height="8" fill="#4b4f5b"/>
<text x="929.59" y="1158.8" font-size="24.5" font-weight="normal" fill="#4a4e5a" textLength="40.06" lengthAdjust="spacingAndGlyphs" >Mrz</text>
<rect x="1208" y="1124" width="2" height="8" fill="#4b4f5b"/>
<text x="1189.82" y="1158.8" font-size="24.5" font-weight="normal" fill="#4a4e5a" textLength="38.04" lengthAdjust="spacingAndGlyphs" >Mai</text>
<rect x="1456" y="1124" width="2" height="8" fill="#4b4f5b"/>
<text x="1441.49" y="1158.8" font-size="24.5" font-weight="normal" fill="#4a4e5a" textLength="32.28" lengthAdjust="spacingAndGlyphs" >Jul</text>
<rect x="1597.5" y="101.5" width="53" height="35" rx="6" fill="#fff" stroke="#d1d4dc" stroke-width="2"/>
<text x="1602.16" y="125.8" font-size="24" font-weight="normal" fill="#4a4e5a" textLength="43.34" lengthAdjust="spacingAndGlyphs" stroke="#4a4e5a" stroke-width="0.6">USD</text>
<path d="M1556 176.2 H1677.6 a4 4 0 0 1 4 4 V233.6 a4 4 0 0 1 -4 4 H1556 Z" fill="#26a69a"/>
<rect x="1558" y="192" width="8" height="2" fill="#ffffff" opacity="0.7"/>
<text x="1575.62" y="202.2" font-size="24.5" font-weight="normal" fill="#ffffff" textLength="84.89" lengthAdjust="spacingAndGlyphs" >4379.40</text>
<text x="1575.11" y="229.3" font-size="24.5" font-weight="normal" fill="#ffffff" textLength="94.04" lengthAdjust="spacingAndGlyphs" opacity="0.85">02:05:10</text>
<text x="11.63" y="32.8" font-size="25" font-weight="bold" fill="#131722" textLength="166.63" lengthAdjust="spacingAndGlyphs" >JensBernecker</text>
<text x="185.69" y="32.8" font-size="25" font-weight="normal" fill="#131722" textLength="198.28" lengthAdjust="spacingAndGlyphs" >veröffentlicht auf</text>
<text x="390.38" y="32.8" font-size="25" font-weight="normal" fill="#131722" textLength="203.9" lengthAdjust="spacingAndGlyphs" >TradingView.com,</text>
<text x="600.61" y="32.8" font-size="25" font-weight="normal" fill="#131722" textLength="138.73" lengthAdjust="spacingAndGlyphs" >Juli 12, 2021</text>
<text x="746.57" y="32.8" font-size="25" font-weight="normal" fill="#131722" textLength="160.93" lengthAdjust="spacingAndGlyphs" >20:04:50 CEST</text>
<text x="11.72" y="66.8" font-size="25" font-weight="bold" fill="#131722" textLength="141.68" lengthAdjust="spacingAndGlyphs" >TVC:SPX, 1D</text>
<text x="164.4" y="66.8" font-size="25" font-weight="normal" fill="#131722" textLength="90.26" lengthAdjust="spacingAndGlyphs" >4379.39</text>
<path d="M271 47.4 L281 66.5 L261 66.5 Z" fill="#26a69a"/>
<text x="288.43" y="66.8" font-size="25" font-weight="normal" fill="#131722" textLength="61.49" lengthAdjust="spacingAndGlyphs" >+9.85</text>
<text x="357.54" y="66.8" font-size="25" font-weight="normal" fill="#131722" textLength="99.56" lengthAdjust="spacingAndGlyphs" >(+0.23%)</text>
<text x="464.69" y="66.8" font-size="25" font-weight="bold" fill="#131722" textLength="28.11" lengthAdjust="spacingAndGlyphs" >O:</text>
<text x="493.89" y="66.8" font-size="25" font-weight="normal" fill="#26a69a" textLength="91.18" lengthAdjust="spacingAndGlyphs" >4372.41</text>
<text x="592.73" y="66.8" font-size="25" font-weight="bold" fill="#131722" textLength="27.44" lengthAdjust="spacingAndGlyphs" >H:</text>
<text x="621.6" y="66.8" font-size="25" font-weight="normal" fill="#26a69a" textLength="90.26" lengthAdjust="spacingAndGlyphs" >4381.46</text>
<text x="719.83" y="66.8" font-size="25" font-weight="bold" fill="#131722" textLength="20.45" lengthAdjust="spacingAndGlyphs" >L:</text>
<text x="741.79" y="66.8" font-size="25" font-weight="normal" fill="#26a69a" textLength="91.38" lengthAdjust="spacingAndGlyphs" >4364.03</text>
<text x="840.68" y="66.8" font-size="25" font-weight="bold" fill="#131722" textLength="24.2" lengthAdjust="spacingAndGlyphs" >C:</text>
<text x="865.68" y="66.8" font-size="25" font-weight="normal" fill="#26a69a" textLength="94.03" lengthAdjust="spacingAndGlyphs" >4379.40</text>
<g>
<g fill="#2962ff"><circle cx="21" cy="1221.8" r="8.9"/><circle cx="34" cy="1214.6" r="13.6"/><circle cx="51" cy="1218" r="8.9"/><circle cx="56.9" cy="1223.8" r="6.95"/><rect x="20.7" y="1218" width="36.2" height="12.75"/></g>
<polyline points="10,1229 31.7,1212.6 44,1223.8 61,1206.5" fill="none" stroke="#fff" stroke-width="1.5"/>
<circle cx="31.7" cy="1212.6" r="3.9" fill="#fff"/><circle cx="44" cy="1223.8" r="4" fill="#fff"/>
</g>
<text x="67.72" y="1224.2" font-size="26.5" font-weight="normal" fill="#131722" textLength="141.21" lengthAdjust="spacingAndGlyphs" >TradingView</text>
</svg>
</body></html>
